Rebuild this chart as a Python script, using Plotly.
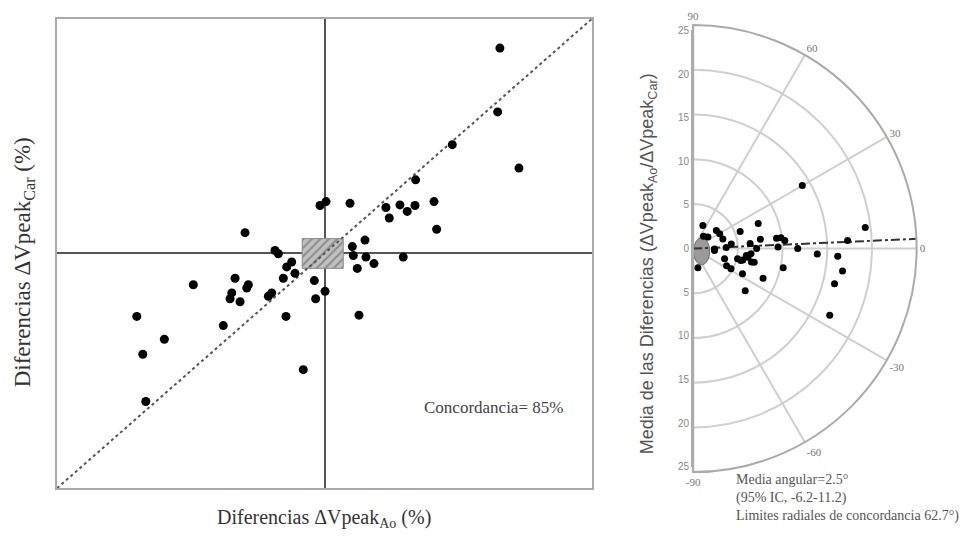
import math
import plotly.graph_objects as go

# ---------------- data: left scatter (agreement plot) ----------------
diff_ao = [19.67, 19.42, 14.33, 21.81, 10.22, -0.50, 0.17, 2.86, 6.89, 8.46,
           9.28, 10.15, 7.26, 12.28, 12.58, 4.54, 3.12, -8.91, -5.55, -5.18,
           -3.68, -4.24, -3.31, -4.62, -5.92, -6.30, -8.54, -8.72, -10.03, -10.40,
           -10.59, -9.47, -14.71, -1.14, 0.06, -0.99, -4.32, -21.05, -11.35, -17.96,
           -20.38, -2.38, -20.04, 3.23, 4.65, 5.55, 3.68, 8.83, 3.87]
diff_car = [26.25, 18.09, 13.91, 10.91, 9.41, 6.13, 6.63, 6.41, 5.88, 6.21,
            5.38, 6.13, 4.54, 6.63, 3.09, 1.71, 0.88, 2.66, 0.38, -0.04,
            -1.09, -1.71, -2.54, -3.16, -5.04, -5.46, -4.00, -4.41, -3.16, -5.04,
            -5.79, -6.16, -4.00, -3.46, -4.84, -5.79, -8.04, -8.04, -9.21, -10.96,
            -12.88, -14.84, -18.91, -0.25, -0.46, -1.29, -1.91, -0.46, -7.88]
axis_limit = 30
exclusion_x = [-2.5, 2.1]
exclusion_y = [-1.9, 1.9]
concordance_text = "Concordancia= 85%"

# ---------------- data: right polar plot ----------------
polar_r = [14.1, 7.8, 19.4, 17.3, 5.6, 7.6, 6.4, 7.1, 9.4, 9.9,
           9.5, 10.3, 11.7, 13.9, 16.2, 16.9, 10.3, 8.5, 2.8, 3.3,
           3.4, 3.5, 2.1, 2.4, 3.7, 3.7, 4.2, 4.8, 5.1, 5.7,
           6.2, 6.7, 7.0, 6.2, 2.2, 16.3, 17.0, 7.5, 6.5, 6.0,
           4.3, 1.8, 2.4, 5.5]
polar_theta = [30, 21, 7, 3, 20, 8, 5, 0, 7, 7,
               1, 5, 0, -2.5, -3, -8.5, -12, -23, 67, 38,
               29, 18, 38, -1, 2, -18, -27, -28, -13, -13,
               -9, -13, -12.5, -27, -76, -14, -26, -39, -5, -7.5,
               7, 50, -5, -14]
radial_max = 25
radial_ticks = [5, 10, 15, 20, 25]
angle_ticks = [-90, -60, -30, 0, 30, 60, 90]
mean_angle = 2.5
ellipse_center = (0.95, -0.3)
ellipse_axes = (0.9, 1.5)
side_ticks = [-25, -20, -15, -10, -5, 0, 5, 10, 15, 20, 25]
stats_lines = ["Media angular=2.5°", "(95% IC, -6.2-11.2)",
               "Limites radiales de concordancia 62.7°)"]

W, H = 973, 551
def px(x):
    return x / W
def py(y):
    return 1 - y / H

SERIF = "Liberation Serif, Times New Roman, serif"
SANS = "Liberation Sans, Arial, sans-serif"

fig = go.Figure()

# hatched exclusion zone
fig.add_trace(go.Scatter(
    x=[exclusion_x[0], exclusion_x[1], exclusion_x[1], exclusion_x[0], exclusion_x[0]],
    y=[exclusion_y[0], exclusion_y[0], exclusion_y[1], exclusion_y[1], exclusion_y[0]],
    mode="lines", fill="toself", line=dict(color="#888", width=1),
    fillcolor="#c0c0c0",
    fillpattern=dict(shape="/", fgcolor="#5a5a5a", bgcolor="#c0c0c0", size=6, solidity=0.35),
    hoverinfo="skip", showlegend=False, xaxis="x", yaxis="y"))

# identity line
fig.add_trace(go.Scatter(
    x=[-axis_limit, axis_limit], y=[-axis_limit, axis_limit], mode="lines",
    line=dict(color="#555", width=2, dash="dot"), showlegend=False,
    xaxis="x", yaxis="y"))

# scatter points
fig.add_trace(go.Scatter(
    x=diff_ao, y=diff_car, mode="markers",
    marker=dict(color="black", size=9), showlegend=False,
    xaxis="x", yaxis="y"))

# polar traces
ex = [ellipse_center[0] + ellipse_axes[0] * math.cos(2 * math.pi * k / 60) for k in range(61)]
ey = [ellipse_center[1] + ellipse_axes[1] * math.sin(2 * math.pi * k / 60) for k in range(61)]
fig.add_trace(go.Scatterpolar(
    r=[math.hypot(a, b) for a, b in zip(ex, ey)],
    theta=[math.degrees(math.atan2(b, a)) for a, b in zip(ex, ey)],
    mode="lines", fill="toself", fillcolor="#9a9a9a",
    line=dict(color="#666", width=1), showlegend=False, subplot="polar"))

fig.add_trace(go.Scatterpolar(
    r=[0, radial_max], theta=[mean_angle, mean_angle], mode="lines",
    line=dict(color="#333", width=2, dash="dashdot"), showlegend=False,
    subplot="polar"))

fig.add_trace(go.Scatterpolar(
    r=polar_r, theta=polar_theta, mode="markers",
    marker=dict(color="black", size=7), showlegend=False, subplot="polar"))

# invisible trace for the side axis of the polar chart
fig.add_trace(go.Scatter(x=[None], y=[None], xaxis="x2", yaxis="y2",
                         showlegend=False, hoverinfo="skip"))

# geometry (pixels)
L_left, L_right, L_top, L_bot = 57, 592, 13, 493
P_cx, P_cy, P_R = 692, 248, 223
P_pad = 5.5  # plotly draws the polar sector slightly inside its domain

fig.update_layout(
    width=W, height=H, margin=dict(l=0, r=0, t=0, b=0),
    paper_bgcolor="white", plot_bgcolor="white",
    xaxis=dict(domain=[px(L_left), px(L_right)], range=[-axis_limit, axis_limit],
               showticklabels=False, ticks="", showgrid=False,
               zeroline=True, zerolinecolor="#555", zerolinewidth=2,
               showline=True, mirror=True, linecolor="#aaa", linewidth=2),
    yaxis=dict(domain=[py(L_bot), py(L_top)], range=[-axis_limit, axis_limit],
               showticklabels=False, ticks="", showgrid=False,
               zeroline=True, zerolinecolor="#555", zerolinewidth=2,
               showline=True, mirror=True, linecolor="#aaa", linewidth=2),
    xaxis2=dict(domain=[px(P_cx), px(P_cx + P_R)], visible=False, range=[0, 1]),
    yaxis2=dict(domain=[py(P_cy + P_R), py(P_cy - P_R)], range=[-radial_max, radial_max],
                anchor="free", position=px(P_cx), side="left",
                tickmode="array", tickvals=side_ticks,
                ticktext=[str(abs(v)) for v in side_ticks],
                tickfont=dict(family=SANS, size=10, color="#888"),
                showgrid=False, zeroline=False, showline=True,
                linecolor="#aaa", linewidth=2, ticks=""),
    polar=dict(
        domain=dict(x=[px(P_cx - P_pad / 2), px(P_cx + P_R + P_pad)],
                    y=[py(P_cy + P_R + P_pad), py(P_cy - P_R - P_pad)]),
        sector=[-90, 90], bgcolor="rgba(0,0,0,0)",
        radialaxis=dict(range=[0, radial_max], tickvals=radial_ticks,
                        showticklabels=False, ticks="", showline=False,
                        gridcolor="#cfcfcf", gridwidth=1.5),
        angularaxis=dict(rotation=0, direction="counterclockwise",
                         tickmode="array", tickvals=angle_ticks,
                         ticktext=[str(v) for v in angle_ticks],
                         tickfont=dict(family=SERIF, size=11, color="#777"),
                         ticks="", showline=True, linecolor="#aaa", linewidth=2,
                         gridcolor="#cfcfcf", gridwidth=1.5),
    ),
    annotations=[
        dict(text=concordance_text, x=px(493), y=py(410), xref="paper", yref="paper",
             xanchor="center", yanchor="middle",
             showarrow=False, font=dict(family=SERIF, size=17, color="#444")),
        dict(text="Diferencias ΔVpeak<sub>Ao</sub> (%)", x=px(324), y=py(524),
             xref="paper", yref="paper", xanchor="center", yanchor="middle",
             showarrow=False, font=dict(family=SERIF, size=20, color="#333")),
        dict(text="Diferencias ΔVpeak<sub>Car</sub> (%)", x=px(24), y=py(262),
             xref="paper", yref="paper", xanchor="center", yanchor="middle",
             showarrow=False, textangle=-90,
             font=dict(family=SERIF, size=23, color="#333")),
        dict(text="Media de las Diferencias (ΔVpeak<sub>Ao</sub>/ΔVpeak<sub>Car</sub>)",
             x=px(648), y=py(264), xref="paper", yref="paper",
             xanchor="center", yanchor="middle", showarrow=False,
             textangle=-90, font=dict(family=SANS, size=18, color="#555")),
        dict(text="<br>".join(stats_lines), x=px(734), y=py(474), xref="paper",
             yref="paper", xanchor="left", yanchor="top", align="left",
             showarrow=False, font=dict(family=SERIF, size=14, color="#555")),
    ],
)

fig.write_html("out.html")
